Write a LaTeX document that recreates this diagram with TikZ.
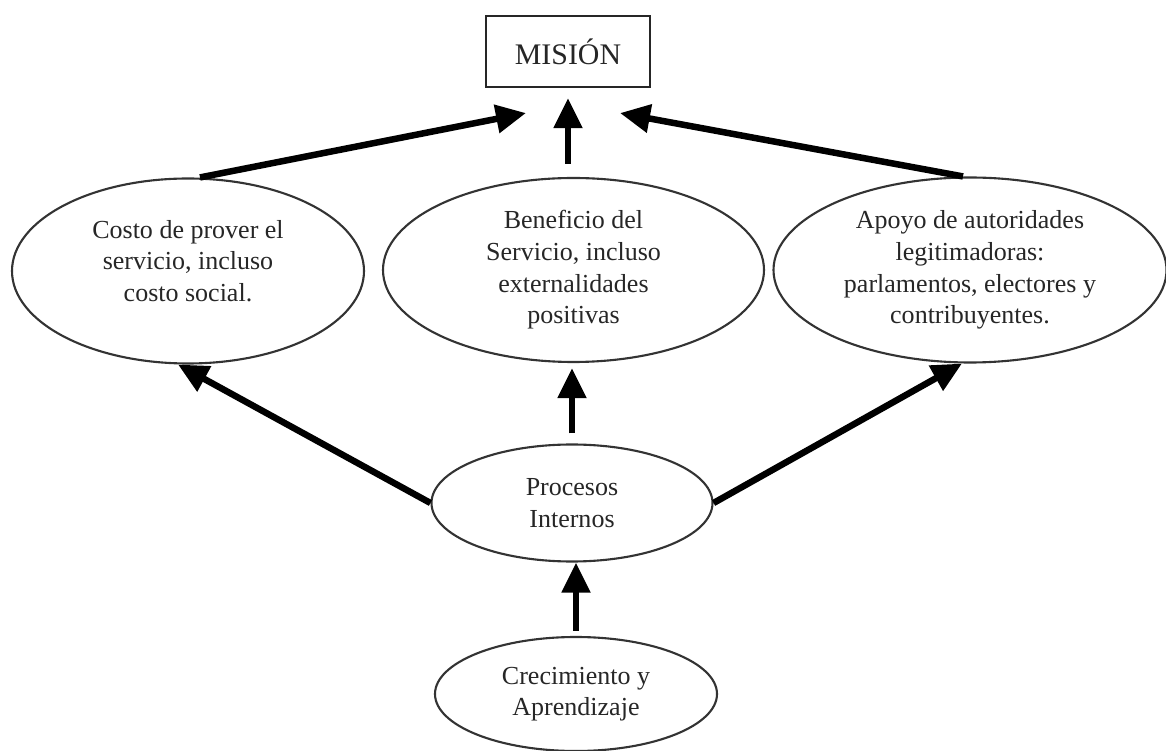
\documentclass[tikz,border=0pt]{standalone}
\usepackage{fontspec}
\setmainfont{Liberation Serif}
\usepackage{tikz}
\usetikzlibrary{
	arrows.meta,
	calc,
	shapes.geometric
}

\begin{document}
\begin{tikzpicture}[
		elipse/.style={ellipse, draw=black!80, line width=1.2pt, align=center, inner sep=1pt, text=black!85, font=\fontsize{14.8}{18}\selectfont},
		flecha/.style={-{Triangle[length=0.6cm, width=0.55cm]}, line width=3.7pt}
	]
		\useasboundingbox (0,0) rectangle (23.32,-15.02);
		
		% misión
		\node[draw=black!85, line width=1.2pt, minimum width=3.28cm, minimum height=1.42cm, text=black!85, font=\fontsize{17}{20}\selectfont] (mision) at (11.36,-1.03) {MISIÓN};
		
		% perspectivas
		\node[elipse, minimum width=7.04cm, minimum height=3.7cm] (costo) at (3.76,-5.42) {Costo de prover el\\servicio, incluso\\costo social.\\[-6.5pt]};
		\node[elipse, minimum width=7.62cm, minimum height=3.68cm] (beneficio) at (11.47,-5.40) {Beneficio del\\Servicio, incluso\\externalidades\\positivas};
		\node[elipse, minimum width=7.86cm, minimum height=3.7cm] (apoyo) at (19.40,-5.40) {Apoyo de autoridades\\legitimadoras:\\parlamentos, electores y\\contribuyentes.};
		
		% procesos y crecimiento
		\node[elipse, minimum width=5.62cm, minimum height=2.34cm] (procesos) at (11.44,-10.06) {Procesos\\Internos};
		\node[elipse, minimum width=5.64cm, minimum height=2.28cm] (crecimiento) at (11.52,-13.88) {Crecimiento y\\Aprendizaje};
		
		% flechas hacia la misión
		\draw[flecha] ([xshift=0.24cm]costo.north) -- ($(mision.south)+(-0.84,-0.5)$);
		\draw[flecha] ([yshift=0.26cm]beneficio.north -| mision.south) -- ([yshift=-0.2cm]mision.south);
		\draw[flecha] ([xshift=-0.14cm]apoyo.north) -- ($(mision.south)+(1.04,-0.5)$);
		
		% flechas desde procesos
		\draw[flecha] (procesos.west) -- ([xshift=-0.2cm]costo.south);
		\draw[flecha] ([yshift=0.2cm]procesos.north) -- ([yshift=-0.1cm]procesos.north |- beneficio.south);
		\draw[flecha] (procesos.east) -- ([xshift=-0.16cm]apoyo.south);
		\draw[flecha] ([yshift=0.1cm]crecimiento.north) -- (crecimiento.north |- procesos.south);
		
	\end{tikzpicture}
\end{document}
